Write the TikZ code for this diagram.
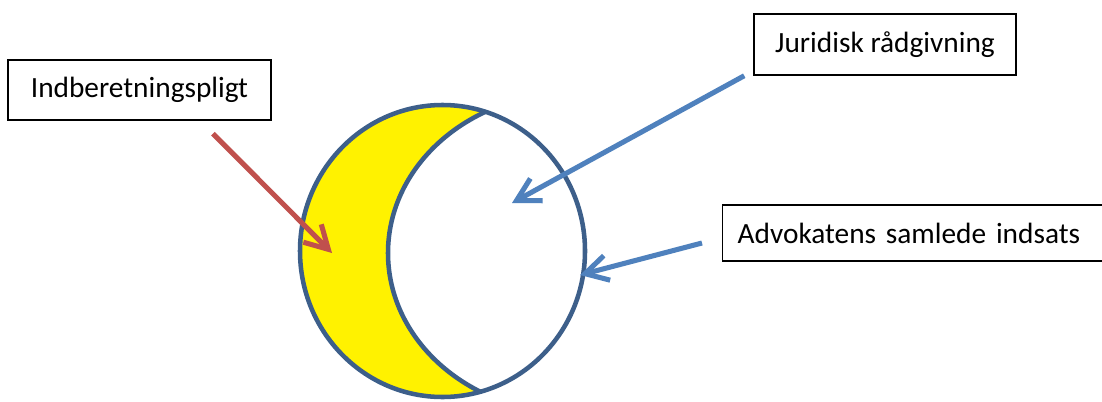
\documentclass[tikz,border=0pt]{standalone}
\usepackage{fontspec}
\setmainfont{Carlito}
\usetikzlibrary{arrows.meta}

\definecolor{rimblue}{HTML}{3D5F8A}
\definecolor{moonyellow}{HTML}{FFF200}
\definecolor{arrowblue}{HTML}{4F81BD}
\definecolor{arrowred}{HTML}{C0504D}

\tikzset{
    labelbox/.style={draw, line width=1.1pt, inner sep=0pt, font=\fontsize{22}{26}\selectfont},
    pointer/.style={line width=3.8pt, -{Straight Barb[length=17pt, width=19pt]}},
}

\begin{document}
\begin{tikzpicture}[x=0.75pt, y=0.75pt]
    \useasboundingbox (0, 0) rectangle (1102, 401);
    % crescent
    \fill[moonyellow] (442.5, 150) ellipse (142.5 and 146);
    \begin{scope}
        \clip (442.5, 150) ellipse (142.5 and 146);
        \filldraw[fill=white, draw=rimblue, line width=3.4pt] (572, 148) ellipse (184 and 160);
    \end{scope}
    \draw[rimblue, line width=3.4pt] (442.5, 150) ellipse (142.5 and 146);
    % labels
    \node[labelbox, minimum width=197pt, minimum height=45pt] (ind) at (139.5, 311) {Indberetningspligt};
    \node[labelbox, minimum width=196.5pt, minimum height=45.75pt] (jur) at (885, 356.5) {Juridisk rådgivning};
    \node[labelbox, anchor=west, minimum height=42pt, text width=264pt, inner xsep=11.25pt, align=left] (adv) at (722, 168) {Advokatens samlede indsats};
    % pointers
    \coordinate (moon) at (332, 148);
    \coordinate (core) at (512, 198);
    \coordinate (rim) at (580, 126);
    \draw[pointer, color=arrowred] ([shift={(73.5, -13)}]ind.south) -- (moon);
    \draw[pointer, color=arrowblue] ([shift={(-9, 0)}]jur.south west) -- (core);
    \draw[pointer, color=arrowblue] ([shift={(-20, -10)}]adv.west) -- (rim);
\end{tikzpicture}
\end{document}
